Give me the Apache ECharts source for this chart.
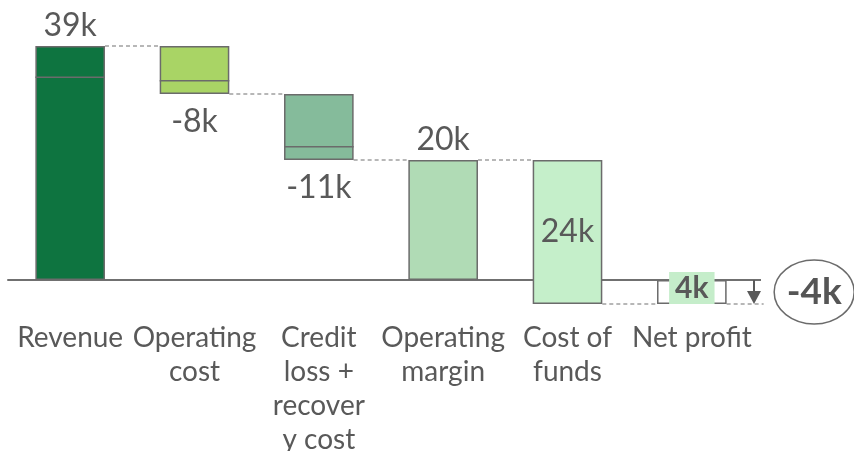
<!DOCTYPE html>
<html>
<head>
<meta charset="utf-8">
<script src="https://cdn.jsdelivr.net/npm/echarts@6/dist/echarts.min.js"></script>
<style>
  html, body { margin: 0; padding: 0; background: #fff; }
  #chart { width: 854px; height: 451px; }
</style>
</head>
<body>
<div id="chart"></div>
<script>
const categories = ['Revenue', 'Operating\ncost', 'Credit\nloss +\nrecover\ny cost', 'Operating\nmargin', 'Cost of\nfunds', 'Net profit'];
const barLow = [0, 31, 20, 0, -4, -4];
const barHigh = [39, 39, 31, 20, 20, 0];
const labelValues = [39, -8, -11, 20, 24, 4];
const labelPlaces = ['top', 'bottom', 'bottom', 'top', 'inside', 'inside'];
const barColors = ['#0e7440', '#a9d465', '#85bb9b', '#b0dbb5', '#c5efca', '#ffffff'];
// inner divider line in the first three bars
const splitValues = [33.8, 33.2, 22.2];
// dashed connector levels between bar i and bar i+1
const connectorLevels = [39, 31, 20, 20, -4, -4];
const netResult = -4;

const chart = echarts.init(document.getElementById('chart'));

const textColor = '#595959';
const borderColor = '#6b6b6b';
const barRatio = 0.56;

function halfBar(api) {
  return api.size([1, 0])[0] * barRatio / 2;
}

const option = {
  animation: false,
  grid: { left: 8, right: 100, top: 46, bottom: 147, containLabel: false, outerBoundsMode: 'none' },
  xAxis: {
    type: 'category',
    data: categories,
    axisTick: { show: false },
    axisLine: { lineStyle: { color: '#707070', width: 2 } },
    axisLabel: {
      color: textColor,
      fontFamily: 'Lato',
      fontSize: 28,
      lineHeight: 34,
      margin: 17,
      interval: 0
    }
  },
  yAxis: {
    type: 'value',
    min: -4,
    max: 39,
    show: false,
    splitLine: { show: false }
  },
  series: [
    {
      name: 'base',
      type: 'bar',
      stack: 'w',
      stackStrategy: 'all',
      barWidth: barRatio * 100 + '%',
      itemStyle: { color: 'transparent' },
      silent: true,
      data: barLow
    },
    {
      name: 'value',
      type: 'bar',
      stack: 'w',
      stackStrategy: 'all',
      barWidth: barRatio * 100 + '%',
      z: 3,
      data: barHigh.map((h, i) => ({
        value: h - barLow[i],
        itemStyle: { color: barColors[i], borderColor: borderColor, borderWidth: 1.5 },
        label: {
          show: true,
          position: labelPlaces[i],
          distance: labelPlaces[i] === 'top' ? 4 : 12,
          offset: i === 5 ? [0, -4] : [0, 0],
          formatter: labelValues[i] + 'k',
          color: textColor,
          fontFamily: 'Lato',
          fontSize: i === 5 ? 30 : 32,
          fontWeight: i === 5 ? 'bold' : 'normal',
          backgroundColor: i === 5 ? '#c5edca' : 'transparent',
          padding: i === 5 ? [2, 6, 0, 6] : 0
        }
      }))
    },
    {
      name: 'dividers',
      type: 'custom',
      z: 4,
      silent: true,
      data: splitValues.map((v, i) => [i, v]),
      renderItem: function (params, api) {
        const p = api.coord([api.value(0), api.value(1)]);
        const h = halfBar(api);
        return {
          type: 'line',
          shape: { x1: p[0] - h, y1: p[1], x2: p[0] + h, y2: p[1] },
          style: { stroke: borderColor, lineWidth: 1.5 }
        };
      }
    },
    {
      name: 'connectors',
      type: 'custom',
      z: 2,
      silent: true,
      data: connectorLevels.map((v, i) => [i, v]),
      renderItem: function (params, api) {
        const i = api.value(0);
        const p = api.coord([i, api.value(1)]);
        const h = halfBar(api);
        const band = api.size([1, 0])[0];
        const x2 = i === categories.length - 1 ? p[0] + h + 37 : p[0] + band - h;
        return {
          type: 'line',
          shape: { x1: p[0] + h, y1: p[1], x2: x2, y2: p[1] },
          style: { stroke: '#a0a0a0', lineWidth: 1.5, lineDash: [4, 3] }
        };
      }
    },
    {
      name: 'result',
      type: 'custom',
      z: 5,
      silent: true,
      data: [[categories.length - 1, netResult]],
      renderItem: function (params, api) {
        const i = api.value(0);
        const v = api.value(1);
        const top = api.coord([i, 0]);
        const bottom = api.coord([i, v]);
        const h = halfBar(api);
        const band = api.size([1, 0])[0];
        const ax = top[0] + band / 2;
        const cx = top[0] + band;
        const cy = (top[1] + bottom[1]) / 2;
        return {
          type: 'group',
          children: [
            {
              type: 'line',
              shape: { x1: top[0] + h, y1: top[1], x2: ax + 7, y2: top[1] },
              style: { stroke: '#707070', lineWidth: 2 }
            },
            {
              type: 'line',
              shape: { x1: ax, y1: top[1], x2: ax, y2: bottom[1] - 10 },
              style: { stroke: '#5a5a5a', lineWidth: 2 }
            },
            {
              type: 'polygon',
              shape: { points: [[ax - 7, bottom[1] - 13], [ax + 7, bottom[1] - 13], [ax, bottom[1]]] },
              style: { fill: '#5a5a5a' }
            },
            {
              type: 'ellipse',
              shape: { cx: cx - 2, cy: cy, rx: 40, ry: 32 },
              style: { fill: '#fff', stroke: '#6b6b6b', lineWidth: 1.5 }
            },
            {
              type: 'text',
              x: cx - 2,
              y: cy,
              style: {
                text: v + 'k',
                fill: '#555555',
                font: 'bold 37px Lato',
                align: 'center',
                verticalAlign: 'middle'
              }
            }
          ]
        };
      }
    }
  ]
};

chart.setOption(option);
</script>
</body>
</html>
